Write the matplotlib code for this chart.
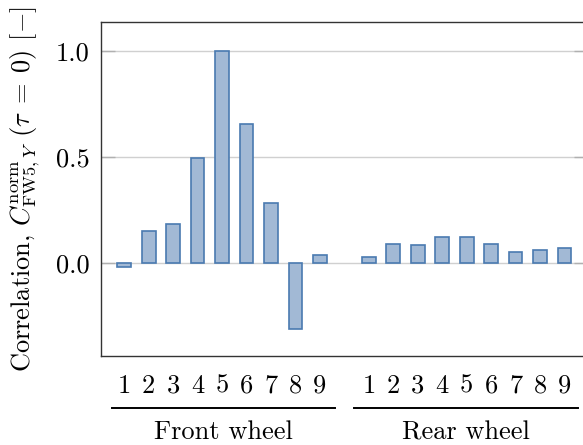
import numpy as np
import matplotlib
matplotlib.use('Agg')
import matplotlib.pyplot as plt
import matplotlib.transforms as mtransforms

# Correlation values
front_labels = ['1', '2', '3', '4', '5', '6', '7', '8', '9']
rear_labels = ['1', '2', '3', '4', '5', '6', '7', '8', '9']
front_values = [-0.02, 0.152, 0.185, 0.495, 1.0, 0.656, 0.282, -0.313, 0.036]
rear_values = [0.027, 0.088, 0.082, 0.124, 0.121, 0.088, 0.053, 0.060, 0.072]
group_names = ['Front wheel', 'Rear wheel']

plt.rcParams['font.family'] = 'serif'
plt.rcParams['font.serif'] = ['cmr10']
plt.rcParams['mathtext.fontset'] = 'cm'
plt.rcParams['axes.formatter.use_mathtext'] = True
plt.rcParams['axes.unicode_minus'] = False

fig = plt.figure(figsize=(5.83, 4.45), dpi=100)
ax = fig.add_axes([0.1732, 0.2, 0.835, 0.7506])

front_x = np.arange(1, len(front_values) + 1)
rear_x = np.arange(len(front_values) + 2, len(front_values) + 2 + len(rear_values))

face = '#a2b9d5'
edge = '#4a7ab0'
ax.bar(front_x, front_values, width=0.56, color=face, edgecolor=edge, linewidth=1.2, zorder=3)
ax.bar(rear_x, rear_values, width=0.56, color=face, edgecolor=edge, linewidth=1.2, zorder=3)

ax.set_xlim(0.05, 19.95)
ax.set_ylim(-0.44, 1.137)
ax.set_yticks([0.0, 0.5, 1.0])
ax.set_yticklabels(['0.0', '0.5', '1.0'])
ax.set_xticks(np.concatenate([front_x, rear_x]))
ax.set_xticklabels(front_labels + rear_labels)

ax.grid(axis='y', color='#d0d0d0', linewidth=1.0, zorder=0)
ax.tick_params(axis='y', direction='in', length=10, width=1.0, color='#b0b0b0',
               labelsize=19, pad=8, right=True)
ax.tick_params(axis='x', length=0, labelsize=19, pad=13)

for side in ['left', 'top', 'bottom', 'right']:
    ax.spines[side].set_color('#333333')
    ax.spines[side].set_linewidth(1.0)

ax.set_ylabel(r'Correlation, $C^{\mathrm{norm}}_{\mathrm{FW5},Y}$ $(\tau\;=\;0)$ $[-]$',
              fontsize=19, labelpad=10)

trans = mtransforms.blended_transform_factory(ax.transData, ax.transAxes)
spans = [(0.5, 9.6), (10.4, 19.55)]
for (x0, x1), name in zip(spans, group_names):
    ax.plot([x0, x1], [-0.156, -0.156], color='black', linewidth=1.4,
            transform=trans, clip_on=False)
    ax.text((x0 + x1) / 2, -0.228, name, transform=trans, ha='center', va='center',
            fontsize=19)

fig.savefig('out.png', dpi=100)
